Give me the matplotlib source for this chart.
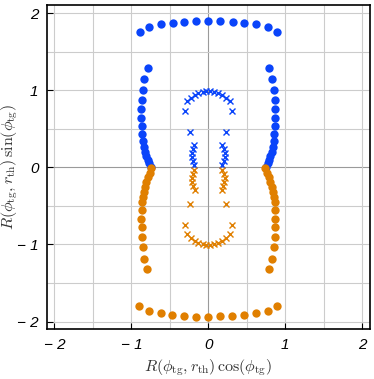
import numpy as np
import matplotlib
matplotlib.use("Agg")
import matplotlib.pyplot as plt
from matplotlib.ticker import FixedLocator, FixedFormatter

plt.rcParams['mathtext.fontset'] = 'cm'

# --- blue circles (upper half) ---
blue_dot_x = [-0.89, -0.77, -0.62, -0.46, -0.315, -0.155, 0.0, 0.155, 0.315, 0.46, 0.62, 0.77, 0.89,
              0.79, 0.83, 0.855, 0.868, 0.872, 0.872, 0.868, 0.858, 0.848, 0.836, 0.822, 0.806, 0.789, 0.771, 0.75,
              -0.79, -0.83, -0.855, -0.868, -0.872, -0.872, -0.868, -0.858, -0.848, -0.836, -0.822, -0.806, -0.789, -0.771, -0.75]
blue_dot_y = [1.755, 1.82, 1.855, 1.875, 1.888, 1.892, 1.896, 1.892, 1.888, 1.875, 1.855, 1.82, 1.755,
              1.282, 1.144, 1.005, 0.876, 0.755, 0.635, 0.531, 0.427, 0.341, 0.267, 0.202, 0.146, 0.095, 0.052, 0.008,
              1.282, 1.144, 1.005, 0.876, 0.755, 0.635, 0.531, 0.427, 0.341, 0.267, 0.202, 0.146, 0.095, 0.052, 0.008]

# --- orange circles (lower half) ---
orange_dot_x = [-0.898, -0.776, -0.617, -0.466, -0.316, -0.16, 0.0, 0.155, 0.31, 0.461, 0.616, 0.771, 0.893,
                0.741, 0.763, 0.784, 0.806, 0.823, 0.841, 0.854, 0.862, 0.867, 0.871, 0.867, 0.862, 0.849, 0.832, 0.793,
                -0.741, -0.763, -0.784, -0.806, -0.823, -0.841, -0.854, -0.862, -0.867, -0.871, -0.867, -0.862, -0.849, -0.832, -0.793]
orange_dot_y = [-1.797, -1.861, -1.891, -1.913, -1.926, -1.935, -1.935, -1.93, -1.926, -1.913, -1.891, -1.861, -1.793,
                -0.01, -0.07, -0.13, -0.19, -0.252, -0.315, -0.38, -0.455, -0.556, -0.664, -0.779, -0.902, -1.035, -1.186, -1.32,
                -0.01, -0.07, -0.13, -0.19, -0.252, -0.315, -0.38, -0.455, -0.556, -0.664, -0.779, -0.902, -1.035, -1.186, -1.32]

# --- blue crosses ---
blue_x_x = [-0.302, -0.283, -0.227, -0.177, -0.129, -0.075, -0.024, 0.024, 0.075, 0.129, 0.177, 0.227, 0.283, 0.302,
            -0.232, 0.23,
            -0.18, -0.205, -0.215, -0.21, -0.2, -0.18,
            0.18, 0.2, 0.218, 0.212, 0.2, 0.18]
blue_x_y = [0.733, 0.855, 0.902, 0.941, 0.962, 0.979, 0.986, 0.986, 0.979, 0.962, 0.941, 0.902, 0.855, 0.733,
            0.461, 0.461,
            0.29, 0.24, 0.19, 0.135, 0.085, 0.03,
            0.29, 0.24, 0.19, 0.135, 0.085, 0.03]

# --- orange crosses ---
orange_x_x = [-0.302, -0.281, -0.225, -0.177, -0.129, -0.075, -0.024, 0.024, 0.075, 0.129, 0.177, 0.225, 0.281, 0.302,
              -0.233, 0.233,
              -0.18, -0.2, -0.215, -0.21, -0.195, -0.175,
              0.18, 0.2, 0.215, 0.21, 0.195, 0.175]
orange_x_y = [-0.747, -0.868, -0.92, -0.955, -0.976, -0.993, -1.002, -1.002, -0.993, -0.976, -0.955, -0.92, -0.868, -0.747,
              -0.475, -0.475,
              -0.03, -0.085, -0.14, -0.19, -0.245, -0.295,
              -0.03, -0.085, -0.14, -0.19, -0.245, -0.295]

tick_vals = [-2, -1, 0, 1, 2]
tick_labels = ['\u2212 2', '\u2212 1', '0', '1', '2']

blue = '#0a44fa'
orange = '#e07f00'

fig = plt.figure(figsize=(3.74, 3.79), dpi=100)
ax = fig.add_axes([0.125, 0.131, 0.864, 0.855])

for v in np.arange(-2, 2.01, 0.5):
    c = '#9a9a9a' if v == 0 else '#cccccc'
    ax.axvline(v, color=c, lw=0.8, zorder=0)
    ax.axhline(v, color=c, lw=0.8, zorder=0)

ax.plot(blue_dot_x, blue_dot_y, 'o', color=blue, ms=6, mew=0, zorder=3)
ax.plot(orange_dot_x, orange_dot_y, 'o', color=orange, ms=6, mew=0, zorder=3)
ax.plot(blue_x_x, blue_x_y, 'x', color=blue, ms=4.6, mew=1.0, zorder=3)
ax.plot(orange_x_x, orange_x_y, 'x', color=orange, ms=4.6, mew=1.0, zorder=3)

ax.set_xlim(-2.1, 2.1)
ax.set_ylim(-2.1, 2.1)

ax.xaxis.set_major_locator(FixedLocator(tick_vals))
ax.xaxis.set_major_formatter(FixedFormatter(tick_labels))
ax.yaxis.set_major_locator(FixedLocator(tick_vals))
ax.yaxis.set_major_formatter(FixedFormatter(tick_labels))
ax.tick_params(direction='in', length=4, width=0.8, top=False, right=False, labelsize=11, pad=6)
for lab in ax.get_xticklabels() + ax.get_yticklabels():
    lab.set_fontstyle('italic')
    lab.set_fontfamily('Liberation Sans')

for s in ax.spines.values():
    s.set_linewidth(1.2)

ax.set_xlabel(r'$R(\phi_{\rm tg}, r_{\rm th})\,\cos(\phi_{\rm tg})$', fontsize=11.5, color='#333333')
ax.set_ylabel(r'$R(\phi_{\rm tg}, r_{\rm th})\,\sin(\phi_{\rm tg})$', fontsize=11.5, color='#333333')
ax.xaxis.set_label_coords(0.5, -0.085)
ax.yaxis.set_label_coords(-0.082, 0.5)

fig.savefig('out.png', dpi=100)
